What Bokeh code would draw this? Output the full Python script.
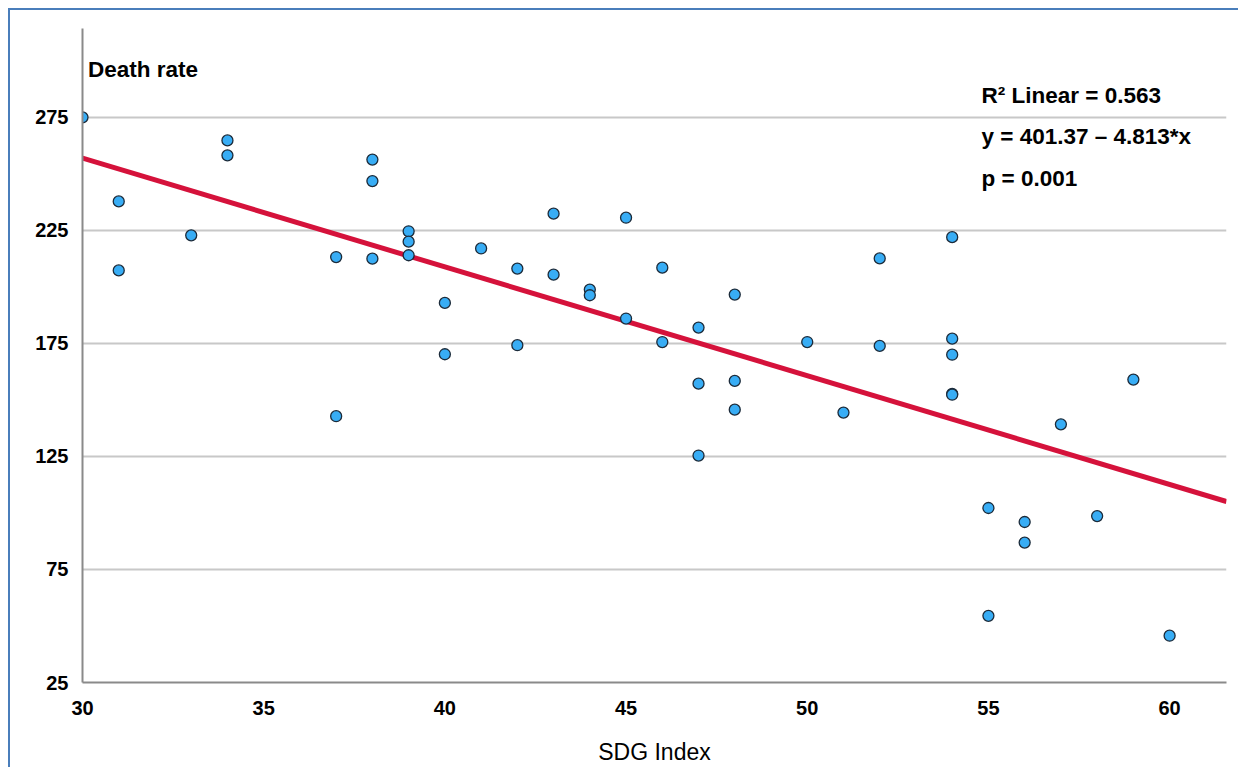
from bokeh.plotting import figure
from bokeh.models import Label, FixedTicker, Range1d, ColumnDataSource
from bokeh.embed import file_html
from bokeh.resources import INLINE

# ---- data ----
sdg_index = [30, 31, 31, 33, 34, 34, 37, 37, 38, 38, 38, 39, 39, 39, 40, 40,
             41, 42, 42, 43, 43, 44, 44, 45, 45, 46, 46, 47, 47, 47, 48, 48, 48,
             50, 51, 52, 52, 54, 54, 54, 54, 54, 55, 55, 56, 56, 57, 58, 59, 60]
death_rate = [275, 237.8, 207.3, 222.8, 264.8, 258.2, 213.2, 142.8, 256.3, 246.8, 212.5,
              224.6, 220.0, 214.0, 192.9, 170.2, 217.0, 208.1, 174.2, 232.4, 205.4,
              198.8, 196.3, 230.6, 186.0, 208.5, 175.6, 182.0, 157.2, 125.4, 196.6,
              158.4, 145.7, 175.6, 144.4, 212.6, 173.9, 222.0, 177.1, 170.0, 152.7,
              152.3, 102.2, 54.5, 96.0, 86.9, 139.2, 98.6, 159.0, 45.7]
fit_intercept = 401.37
fit_slope = -4.813
x_ticks = [30, 35, 40, 45, 50, 55, 60]
y_ticks = [25, 75, 125, 175, 225, 275]
stats_lines = ["R\u00b2 Linear = 0.563", "y = 401.37 \u2013 4.813*x", "p = 0.001"]

X_START, X_END = 30, 61.57
Y_START, Y_END = 25, 314.3

FONT = "Liberation Sans"

p = figure(frame_width=1144, frame_height=654,
           min_border_left=72, min_border_right=12, min_border_top=18, min_border_bottom=82,
           x_range=Range1d(X_START, X_END), y_range=Range1d(Y_START, Y_END),
           output_backend="svg", toolbar_location=None, background_fill_color="white",
           border_fill_color="white")
p.styles = {"margin-left": "8px", "margin-top": "8px",
            "border-top": "2px solid #4a7ebb", "border-left": "2px solid #4a7ebb"}
p.outline_line_color = None

# grid
p.xgrid.visible = False
p.ygrid.grid_line_color = "#c8c8c8"
p.ygrid.grid_line_width = 2

# axes
for ax in (p.xaxis[0], p.yaxis[0]):
    ax.axis_line_color = "#8a8a8a"
    ax.axis_line_width = 2
    ax.major_tick_line_color = None
    ax.minor_tick_line_color = None
    ax.major_label_text_font = FONT
    ax.major_label_text_font_style = "bold"
    ax.major_label_text_font_size = "20px"
    ax.major_label_text_color = "black"
p.xaxis.ticker = FixedTicker(ticks=x_ticks)
p.yaxis.ticker = FixedTicker(ticks=y_ticks)
p.xaxis.major_label_standoff = 12
p.yaxis.major_label_standoff = 8
p.xaxis.axis_label = "SDG Index"
p.xaxis.axis_label_text_font = FONT
p.xaxis.axis_label_text_font_style = "normal"
p.xaxis.axis_label_text_font_size = "23px"
p.xaxis.axis_label_text_color = "black"
p.xaxis.axis_label_standoff = 21

# regression line
fit_x = [X_START, X_END]
fit_y = [fit_intercept + fit_slope * v for v in fit_x]
p.line(fit_x, fit_y, line_color="#d5123b", line_width=5)

# points
src = ColumnDataSource(dict(x=sdg_index, y=death_rate))
p.scatter("x", "y", source=src, size=11, fill_color="#38adf5",
          line_color="#1c2b3a", line_width=1.3)

# labels
p.add_layout(Label(x=30.15, y=296, text="Death rate", text_font=FONT,
                   text_font_style="bold", text_font_size="22.5px",
                   text_color="black", text_baseline="middle"))
for txt, yv in zip(stats_lines, [284.7, 266.6, 248.0]):
    p.add_layout(Label(x=54.81, y=yv, text=txt, text_font=FONT,
                       text_font_style="bold", text_font_size="22.5px",
                       text_color="black", text_baseline="middle"))

open("out.html", "w").write(file_html(p, INLINE))
